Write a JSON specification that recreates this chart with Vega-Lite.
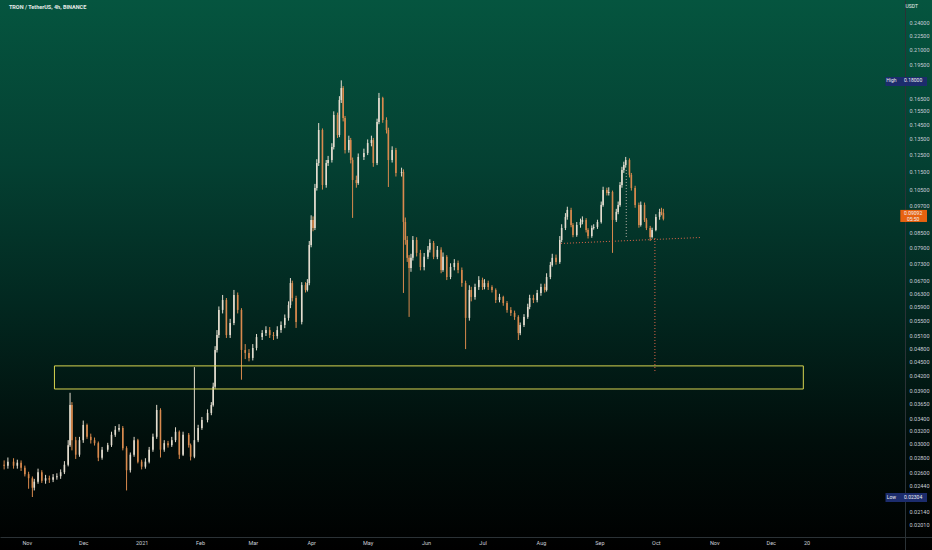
{
"$schema":"https://vega.github.io/schema/vega-lite/v6.json",
"width":932,"height":550,"autosize":"none","padding":0,
"background":"#000000",
"config":{"view":{"stroke":null,"fill":{"gradient":"linear","x1":0,"y1":0,"x2":0,"y2":1,"stops":[{"offset":0,"color":"#05553f"},{"offset":0.3,"color":"#044032"},{"offset":0.55,"color":"#022820"},{"offset":0.8,"color":"#010e0b"},{"offset":1,"color":"#000000"}]}},"text":{"font":"Roboto"}},
"resolve":{"scale":{"color":"independent"}},
"datasets":{
"candles":[
{"t":"2020-10-20","o":0.0270,"h":0.0276,"l":0.0264,"c":0.02689},
{"t":"2020-10-22","o":0.02689,"h":0.0280,"l":0.0265,"c":0.02743},
{"t":"2020-10-25","o":0.02743,"h":0.0279,"l":0.0265,"c":0.02689},
{"t":"2020-10-27","o":0.02689,"h":0.0277,"l":0.0265,"c":0.02729},
{"t":"2020-10-29","o":0.02729,"h":0.0276,"l":0.0262,"c":0.02663},
{"t":"2020-10-31","o":0.02663,"h":0.0269,"l":0.0255,"c":0.02579},
{"t":"2020-11-02","o":0.02579,"h":0.0261,"l":0.0240,"c":0.02528},
{"t":"2020-11-04","o":0.02528,"h":0.0255,"l":0.02304,"c":0.02413},
{"t":"2020-11-05","o":0.02413,"h":0.0252,"l":0.0238,"c":0.02485},
{"t":"2020-11-07","o":0.02485,"h":0.0265,"l":0.0246,"c":0.02604},
{"t":"2020-11-09","o":0.02604,"h":0.0263,"l":0.0247,"c":0.02498},
{"t":"2020-11-11","o":0.02498,"h":0.0257,"l":0.0246,"c":0.02528},
{"t":"2020-11-13","o":0.02528,"h":0.0256,"l":0.0247,"c":0.0251},
{"t":"2020-11-15","o":0.0251,"h":0.0258,"l":0.0248,"c":0.02541},
{"t":"2020-11-17","o":0.02541,"h":0.0259,"l":0.0251,"c":0.02553},
{"t":"2020-11-19","o":0.02553,"h":0.0264,"l":0.0252,"c":0.02604},
{"t":"2020-11-21","o":0.02604,"h":0.0275,"l":0.0258,"c":0.02702},
{"t":"2020-11-23","o":0.02702,"h":0.0305,"l":0.0268,"c":0.02976},
{"t":"2020-11-24","o":0.02976,"h":0.03853,"l":0.0295,"c":0.03629},
{"t":"2020-11-25","o":0.03629,"h":0.0368,"l":0.0290,"c":0.0305},
{"t":"2020-11-27","o":0.0305,"h":0.0310,"l":0.0278,"c":0.02839},
{"t":"2020-11-29","o":0.02839,"h":0.0310,"l":0.0281,"c":0.0305},
{"t":"2020-12-01","o":0.0305,"h":0.0336,"l":0.0301,"c":0.03288},
{"t":"2020-12-03","o":0.03288,"h":0.0331,"l":0.0307,"c":0.03101},
{"t":"2020-12-05","o":0.03101,"h":0.0315,"l":0.0300,"c":0.0305},
{"t":"2020-12-07","o":0.0305,"h":0.0309,"l":0.0297,"c":0.03005},
{"t":"2020-12-09","o":0.03005,"h":0.0303,"l":0.0275,"c":0.02797},
{"t":"2020-12-11","o":0.02797,"h":0.0295,"l":0.0277,"c":0.0291},
{"t":"2020-12-14","o":0.0291,"h":0.0301,"l":0.0288,"c":0.02976},
{"t":"2020-12-16","o":0.02976,"h":0.0318,"l":0.0295,"c":0.03132},
{"t":"2020-12-18","o":0.03132,"h":0.0327,"l":0.0310,"c":0.0321},
{"t":"2020-12-20","o":0.0321,"h":0.0330,"l":0.0318,"c":0.0324},
{"t":"2020-12-22","o":0.0324,"h":0.0327,"l":0.0290,"c":0.02932},
{"t":"2020-12-24","o":0.02932,"h":0.0296,"l":0.0238,"c":0.0263},
{"t":"2020-12-26","o":0.0263,"h":0.0287,"l":0.0260,"c":0.02839},
{"t":"2020-12-28","o":0.02839,"h":0.0310,"l":0.0281,"c":0.0305},
{"t":"2020-12-30","o":0.0305,"h":0.0307,"l":0.0272,"c":0.02743},
{"t":"2021-01-01","o":0.02743,"h":0.0277,"l":0.0264,"c":0.02676},
{"t":"2021-01-03","o":0.02676,"h":0.0279,"l":0.0265,"c":0.02743},
{"t":"2021-01-05","o":0.02743,"h":0.0295,"l":0.0272,"c":0.0291},
{"t":"2021-01-07","o":0.0291,"h":0.0315,"l":0.0288,"c":0.03101},
{"t":"2021-01-09","o":0.03101,"h":0.0363,"l":0.0307,"c":0.0354},
{"t":"2021-01-11","o":0.0354,"h":0.0357,"l":0.0280,"c":0.0291},
{"t":"2021-01-13","o":0.0291,"h":0.0305,"l":0.0288,"c":0.03005},
{"t":"2021-01-15","o":0.03005,"h":0.0304,"l":0.0294,"c":0.02976},
{"t":"2021-01-17","o":0.02976,"h":0.0310,"l":0.0295,"c":0.0305},
{"t":"2021-01-19","o":0.0305,"h":0.0325,"l":0.0302,"c":0.03179},
{"t":"2021-01-21","o":0.03179,"h":0.0320,"l":0.0278,"c":0.02839},
{"t":"2021-01-23","o":0.02839,"h":0.0318,"l":0.0282,"c":0.03132},
{"t":"2021-01-26","o":0.03132,"h":0.0316,"l":0.0294,"c":0.02976},
{"t":"2021-01-27","o":0.02976,"h":0.0300,"l":0.0276,"c":0.02811},
{"t":"2021-01-29","o":0.02811,"h":0.04374,"l":0.0279,"c":0.0305},
{"t":"2021-01-31","o":0.0305,"h":0.0329,"l":0.0302,"c":0.0324},
{"t":"2021-02-02","o":0.0324,"h":0.0342,"l":0.0321,"c":0.0337},
{"t":"2021-02-05","o":0.0337,"h":0.0355,"l":0.0333,"c":0.03488},
{"t":"2021-02-07","o":0.03488,"h":0.0368,"l":0.0345,"c":0.03629},
{"t":"2021-02-08","o":0.03629,"h":0.0405,"l":0.0360,"c":0.03971},
{"t":"2021-02-09","o":0.03971,"h":0.0485,"l":0.0393,"c":0.0476},
{"t":"2021-02-10","o":0.0476,"h":0.0525,"l":0.0470,"c":0.05122},
{"t":"2021-02-11","o":0.05122,"h":0.0590,"l":0.0505,"c":0.0580},
{"t":"2021-02-13","o":0.0580,"h":0.06244,"l":0.0570,"c":0.0609},
{"t":"2021-02-15","o":0.0609,"h":0.0615,"l":0.0505,"c":0.05122},
{"t":"2021-02-17","o":0.05122,"h":0.0555,"l":0.0505,"c":0.05439},
{"t":"2021-02-19","o":0.05439,"h":0.0640,"l":0.0538,"c":0.06244},
{"t":"2021-02-21","o":0.06244,"h":0.0632,"l":0.0570,"c":0.0580},
{"t":"2021-02-23","o":0.0580,"h":0.0585,"l":0.0411,"c":0.0476},
{"t":"2021-02-25","o":0.0476,"h":0.0490,"l":0.0455,"c":0.0469},
{"t":"2021-02-27","o":0.0469,"h":0.0478,"l":0.0450,"c":0.04576},
{"t":"2021-03-01","o":0.04576,"h":0.0490,"l":0.0452,"c":0.04807},
{"t":"2021-03-03","o":0.04807,"h":0.0515,"l":0.0475,"c":0.05072},
{"t":"2021-03-06","o":0.05072,"h":0.0525,"l":0.0500,"c":0.05173},
{"t":"2021-03-08","o":0.05173,"h":0.0535,"l":0.0510,"c":0.0525},
{"t":"2021-03-10","o":0.0525,"h":0.0533,"l":0.0505,"c":0.05122},
{"t":"2021-03-12","o":0.05122,"h":0.0520,"l":0.0500,"c":0.05097},
{"t":"2021-03-14","o":0.05097,"h":0.0535,"l":0.0503,"c":0.0525},
{"t":"2021-03-16","o":0.0525,"h":0.0548,"l":0.0518,"c":0.05385},
{"t":"2021-03-18","o":0.05385,"h":0.0567,"l":0.0530,"c":0.05576},
{"t":"2021-03-20","o":0.05576,"h":0.0605,"l":0.0550,"c":0.05941},
{"t":"2021-03-21","o":0.05941,"h":0.06787,"l":0.0585,"c":0.06621},
{"t":"2021-03-22","o":0.06621,"h":0.0670,"l":0.0605,"c":0.06152},
{"t":"2021-03-24","o":0.06152,"h":0.0622,"l":0.05306,"c":0.05466},
{"t":"2021-03-27","o":0.05466,"h":0.0665,"l":0.0540,"c":0.06556},
{"t":"2021-03-29","o":0.06556,"h":0.0665,"l":0.0632,"c":0.0640},
{"t":"2021-03-30","o":0.0640,"h":0.0675,"l":0.0635,"c":0.06621},
{"t":"2021-03-31","o":0.06621,"h":0.0815,"l":0.0655,"c":0.0799},
{"t":"2021-04-01","o":0.0799,"h":0.0925,"l":0.0790,"c":0.0904},
{"t":"2021-04-02","o":0.0904,"h":0.0920,"l":0.0855,"c":0.0869},
{"t":"2021-04-03","o":0.0869,"h":0.1080,"l":0.0860,"c":0.10584},
{"t":"2021-04-04","o":0.10584,"h":0.1220,"l":0.1045,"c":0.11971},
{"t":"2021-04-05","o":0.11971,"h":0.14583,"l":0.1180,"c":0.1409},
{"t":"2021-04-07","o":0.1409,"h":0.1420,"l":0.1050,"c":0.10741},
{"t":"2021-04-09","o":0.10741,"h":0.1215,"l":0.1060,"c":0.11971},
{"t":"2021-04-10","o":0.11971,"h":0.1240,"l":0.1180,"c":0.1215},
{"t":"2021-04-12","o":0.1215,"h":0.1320,"l":0.1200,"c":0.12955},
{"t":"2021-04-13","o":0.12955,"h":0.1545,"l":0.1280,"c":0.15171},
{"t":"2021-04-15","o":0.15171,"h":0.1535,"l":0.1355,"c":0.13746},
{"t":"2021-04-16","o":0.13746,"h":0.1665,"l":0.1360,"c":0.1634},
{"t":"2021-04-17","o":0.1634,"h":0.1800,"l":0.1610,"c":0.1733},
{"t":"2021-04-18","o":0.1733,"h":0.1750,"l":0.1470,"c":0.14948},
{"t":"2021-04-19","o":0.14948,"h":0.1510,"l":0.1255,"c":0.1277},
{"t":"2021-04-21","o":0.1277,"h":0.1370,"l":0.1260,"c":0.1341},
{"t":"2021-04-22","o":0.1341,"h":0.1355,"l":0.1195,"c":0.1215},
{"t":"2021-04-23","o":0.1215,"h":0.1230,"l":0.09132,"c":0.1101},
{"t":"2021-04-25","o":0.1101,"h":0.1125,"l":0.1060,"c":0.10848},
{"t":"2021-04-26","o":0.10848,"h":0.1255,"l":0.1075,"c":0.12337},
{"t":"2021-04-29","o":0.12337,"h":0.1285,"l":0.1215,"c":0.12583},
{"t":"2021-05-01","o":0.12583,"h":0.1345,"l":0.1245,"c":0.13213},
{"t":"2021-05-03","o":0.13213,"h":0.1370,"l":0.1300,"c":0.1341},
{"t":"2021-05-04","o":0.1341,"h":0.1355,"l":0.1175,"c":0.11971},
{"t":"2021-05-06","o":0.11971,"h":0.1490,"l":0.1185,"c":0.14655},
{"t":"2021-05-07","o":0.14655,"h":0.16918,"l":0.1450,"c":0.16506},
{"t":"2021-05-09","o":0.16506,"h":0.1660,"l":0.1460,"c":0.1480},
{"t":"2021-05-11","o":0.1480,"h":0.1500,"l":0.1385,"c":0.1409},
{"t":"2021-05-12","o":0.1409,"h":0.1425,"l":0.10637,"c":0.1215},
{"t":"2021-05-14","o":0.1215,"h":0.1300,"l":0.1200,"c":0.1277},
{"t":"2021-05-16","o":0.1277,"h":0.1290,"l":0.1120,"c":0.1140},
{"t":"2021-05-19","o":0.1140,"h":0.1170,"l":0.1120,"c":0.11457},
{"t":"2021-05-20","o":0.11457,"h":0.1160,"l":0.06306,"c":0.08951},
{"t":"2021-05-21","o":0.08951,"h":0.0915,"l":0.0800,"c":0.0819},
{"t":"2021-05-22","o":0.0819,"h":0.0835,"l":0.0735,"c":0.07498},
{"t":"2021-05-23","o":0.07498,"h":0.0760,"l":0.05603,"c":0.07133},
{"t":"2021-05-24","o":0.07133,"h":0.0765,"l":0.0700,"c":0.07498},
{"t":"2021-05-25","o":0.07498,"h":0.0835,"l":0.0740,"c":0.0819},
{"t":"2021-05-27","o":0.0819,"h":0.0830,"l":0.0755,"c":0.07685},
{"t":"2021-05-29","o":0.07685,"h":0.0780,"l":0.0705,"c":0.07168},
{"t":"2021-05-31","o":0.07168,"h":0.0768,"l":0.0705,"c":0.07536},
{"t":"2021-06-02","o":0.07536,"h":0.0795,"l":0.0745,"c":0.0780},
{"t":"2021-06-03","o":0.0780,"h":0.0822,"l":0.0770,"c":0.0807},
{"t":"2021-06-05","o":0.0807,"h":0.0815,"l":0.0745,"c":0.07536},
{"t":"2021-06-07","o":0.07536,"h":0.0795,"l":0.0745,"c":0.0780},
{"t":"2021-06-09","o":0.0780,"h":0.0790,"l":0.0695,"c":0.0706},
{"t":"2021-06-10","o":0.0706,"h":0.0770,"l":0.0700,"c":0.07536},
{"t":"2021-06-12","o":0.07536,"h":0.0760,"l":0.0672,"c":0.06821},
{"t":"2021-06-14","o":0.06821,"h":0.0730,"l":0.0675,"c":0.07168},
{"t":"2021-06-16","o":0.07168,"h":0.0745,"l":0.0705,"c":0.07311},
{"t":"2021-06-18","o":0.07311,"h":0.0740,"l":0.0695,"c":0.0706},
{"t":"2021-06-20","o":0.0706,"h":0.0715,"l":0.0650,"c":0.06621},
{"t":"2021-06-22","o":0.06621,"h":0.0670,"l":0.0478,"c":0.05576},
{"t":"2021-06-24","o":0.05576,"h":0.0655,"l":0.0550,"c":0.0640},
{"t":"2021-06-25","o":0.0640,"h":0.0650,"l":0.0605,"c":0.06183},
{"t":"2021-06-27","o":0.06183,"h":0.0660,"l":0.0610,"c":0.06492},
{"t":"2021-06-29","o":0.06492,"h":0.0685,"l":0.0640,"c":0.0672},
{"t":"2021-07-01","o":0.0672,"h":0.0680,"l":0.0640,"c":0.06492},
{"t":"2021-07-02","o":0.06492,"h":0.0675,"l":0.0642,"c":0.06621},
{"t":"2021-07-04","o":0.06621,"h":0.0670,"l":0.0640,"c":0.06492},
{"t":"2021-07-06","o":0.06492,"h":0.0655,"l":0.0632,"c":0.0640},
{"t":"2021-07-08","o":0.0640,"h":0.0645,"l":0.0600,"c":0.0609},
{"t":"2021-07-10","o":0.0609,"h":0.0628,"l":0.0602,"c":0.06183},
{"t":"2021-07-12","o":0.06183,"h":0.0622,"l":0.0592,"c":0.0600},
{"t":"2021-07-14","o":0.0600,"h":0.0606,"l":0.0572,"c":0.0580},
{"t":"2021-07-16","o":0.0580,"h":0.0588,"l":0.0563,"c":0.05715},
{"t":"2021-07-18","o":0.05715,"h":0.0578,"l":0.0552,"c":0.05603},
{"t":"2021-07-20","o":0.05603,"h":0.0565,"l":0.0500,"c":0.05173},
{"t":"2021-07-21","o":0.05173,"h":0.0545,"l":0.0512,"c":0.05385},
{"t":"2021-07-23","o":0.05385,"h":0.0568,"l":0.0533,"c":0.05603},
{"t":"2021-07-25","o":0.05603,"h":0.0598,"l":0.0555,"c":0.05884},
{"t":"2021-07-26","o":0.05884,"h":0.0625,"l":0.0582,"c":0.06152},
{"t":"2021-07-28","o":0.06152,"h":0.0625,"l":0.0600,"c":0.0609},
{"t":"2021-07-30","o":0.0609,"h":0.0640,"l":0.0602,"c":0.06306},
{"t":"2021-08-01","o":0.06306,"h":0.0660,"l":0.0622,"c":0.06492},
{"t":"2021-08-03","o":0.06492,"h":0.0660,"l":0.0632,"c":0.0640},
{"t":"2021-08-04","o":0.0640,"h":0.0695,"l":0.0635,"c":0.06821},
{"t":"2021-08-06","o":0.06821,"h":0.0735,"l":0.0675,"c":0.07239},
{"t":"2021-08-07","o":0.07239,"h":0.0765,"l":0.0718,"c":0.07498},
{"t":"2021-08-09","o":0.07498,"h":0.0762,"l":0.0725,"c":0.07347},
{"t":"2021-08-11","o":0.07347,"h":0.0835,"l":0.0728,"c":0.0819},
{"t":"2021-08-12","o":0.0819,"h":0.0885,"l":0.0810,"c":0.0869},
{"t":"2021-08-14","o":0.0869,"h":0.0935,"l":0.0860,"c":0.09178},
{"t":"2021-08-15","o":0.09178,"h":0.0965,"l":0.0905,"c":0.0950},
{"t":"2021-08-17","o":0.0950,"h":0.0960,"l":0.0872,"c":0.0882},
{"t":"2021-08-18","o":0.0882,"h":0.0890,"l":0.0830,"c":0.0839},
{"t":"2021-08-20","o":0.0839,"h":0.0895,"l":0.0832,"c":0.0882},
{"t":"2021-08-22","o":0.0882,"h":0.0910,"l":0.0870,"c":0.08951},
{"t":"2021-08-23","o":0.08951,"h":0.0920,"l":0.0885,"c":0.0904},
{"t":"2021-08-25","o":0.0904,"h":0.0912,"l":0.0850,"c":0.0860},
{"t":"2021-08-26","o":0.0860,"h":0.0868,"l":0.0825,"c":0.0835},
{"t":"2021-08-28","o":0.0835,"h":0.0880,"l":0.0828,"c":0.0869},
{"t":"2021-08-29","o":0.0869,"h":0.0885,"l":0.0862,"c":0.08733},
{"t":"2021-08-31","o":0.08733,"h":0.0905,"l":0.0865,"c":0.08951},
{"t":"2021-09-02","o":0.08951,"h":0.0990,"l":0.0888,"c":0.09737},
{"t":"2021-09-03","o":0.09737,"h":0.1065,"l":0.0965,"c":0.1048},
{"t":"2021-09-05","o":0.1048,"h":0.1060,"l":0.1020,"c":0.10326},
{"t":"2021-09-06","o":0.10326,"h":0.1062,"l":0.1020,"c":0.10377},
{"t":"2021-09-08","o":0.10377,"h":0.1045,"l":0.07685,"c":0.0904},
{"t":"2021-09-10","o":0.0904,"h":0.0955,"l":0.0895,"c":0.09407},
{"t":"2021-09-11","o":0.09407,"h":0.0990,"l":0.0930,"c":0.09737},
{"t":"2021-09-12","o":0.09737,"h":0.1090,"l":0.0965,"c":0.10741},
{"t":"2021-09-13","o":0.10741,"h":0.1175,"l":0.1060,"c":0.1157},
{"t":"2021-09-14","o":0.1157,"h":0.1205,"l":0.1140,"c":0.11854},
{"t":"2021-09-15","o":0.11854,"h":0.12337,"l":0.1170,"c":0.1215},
{"t":"2021-09-17","o":0.1215,"h":0.1225,"l":0.1115,"c":0.11288},
{"t":"2021-09-18","o":0.11288,"h":0.1140,"l":0.1045,"c":0.10584},
{"t":"2021-09-20","o":0.10584,"h":0.1070,"l":0.0960,"c":0.09737},
{"t":"2021-09-22","o":0.09737,"h":0.0985,"l":0.0870,"c":0.0882},
{"t":"2021-09-23","o":0.0882,"h":0.0990,"l":0.0875,"c":0.09737},
{"t":"2021-09-25","o":0.09737,"h":0.0985,"l":0.0895,"c":0.0904},
{"t":"2021-09-26","o":0.0904,"h":0.0912,"l":0.0860,"c":0.0869},
{"t":"2021-09-28","o":0.0869,"h":0.0878,"l":0.0815,"c":0.08309},
{"t":"2021-09-29","o":0.08309,"h":0.0870,"l":0.0825,"c":0.0860},
{"t":"2021-10-01","o":0.0860,"h":0.0930,"l":0.0855,"c":0.09178},
{"t":"2021-10-03","o":0.09178,"h":0.0955,"l":0.0905,"c":0.09407},
{"t":"2021-10-04","o":0.09407,"h":0.0960,"l":0.0925,"c":0.0936},
{"t":"2021-10-05","o":0.0936,"h":0.0955,"l":0.0902,"c":0.09092}
],
"zone":[{"t1":"2020-11-15T17:00:00Z","t2":"2021-12-18T07:00:00Z","p1":0.0440,"p2":0.03926}],
"marks":[
{"kind":"target","t1":"2021-08-11T15:00:00Z","t2":"2021-10-24T17:00:00Z","p1":0.0805,"p2":0.0829},
{"kind":"target","t1":"2021-09-30T12:00:00Z","t2":"2021-09-30T12:00:00Z","p1":0.0827,"p2":0.04247},
{"kind":"measure","t1":"2021-09-15T07:00:00Z","t2":"2021-09-15T07:00:00Z","p1":0.1157,"p2":0.0827}
],
"tags":[
{"kind":"high","t1":"2022-01-30T22:00:00Z","t2":"2022-02-21T23:00:00Z","p1":0.1830,"p2":0.1751},
{"kind":"low","t1":"2022-01-30T22:00:00Z","t2":"2022-02-21T23:00:00Z","p1":0.02350,"p2":0.02248},
{"kind":"last","t1":"2022-02-07T19:00:00Z","t2":"2022-02-21T23:00:00Z","p1":0.0950,"p2":0.08951}
],
"texts":[
{"t":"2022-02-03T02:00:00Z","p":0.1800,"label":"High"},
{"t":"2022-02-14T14:00:00Z","p":0.1800,"label":"0.18000"},
{"t":"2022-02-03T02:00:00Z","p":0.02304,"label":"Low"},
{"t":"2022-02-14T14:00:00Z","p":0.02304,"label":"0.02304"},
{"t":"2022-02-14T14:00:00Z","p":0.09342,"label":"0.09092"},
{"t":"2022-02-14T14:00:00Z","p":0.09069,"label":"05:50"},
{"t":"2022-02-13T20:00:00Z","p":0.2598,"label":"USDT"}
],
"title":[{"t":"2020-10-22T13:00:00Z","p":0.2585,"label":"TRON / TetherUS, 4h, BINANCE"}]
},
"encoding":{
"x":{"field":"t","type":"temporal","scale":{"type":"utc","domain":[{"year":2020,"month":10,"date":20,"hours":11,"utc":true},{"year":2022,"month":2,"date":21,"hours":23,"utc":true}],"nice":false},
 "axis":{"orient":"bottom","offset":-13,"title":null,"grid":false,"ticks":false,"domainColor":"#2b3236","labelColor":"#c9cdd6","labelFont":"Roboto","labelFontSize":5.5,"labelPadding":3,"labelOverlap":false,"labelFlush":false,
 "values":[{"year":2020,"month":11,"date":1,"utc":true},{"year":2020,"month":12,"date":1,"utc":true},{"year":2021,"month":1,"date":1,"utc":true},{"year":2021,"month":2,"date":1,"utc":true},{"year":2021,"month":3,"date":1,"utc":true},{"year":2021,"month":4,"date":1,"utc":true},{"year":2021,"month":5,"date":1,"utc":true},{"year":2021,"month":6,"date":1,"utc":true},{"year":2021,"month":7,"date":1,"utc":true},{"year":2021,"month":8,"date":1,"utc":true},{"year":2021,"month":9,"date":1,"utc":true},{"year":2021,"month":10,"date":1,"utc":true},{"year":2021,"month":11,"date":1,"utc":true},{"year":2021,"month":12,"date":1,"utc":true},{"year":2021,"month":12,"date":20,"utc":true}],
 "labelExpr":"utcdate(datum.value) == 20 ? '20' : (utcmonth(datum.value) == 0 ? utcFormat(datum.value, '%Y') : utcFormat(datum.value, '%b'))"}}
},
"layer":[
{"data":{"name":"candles"},"mark":{"type":"rule","strokeWidth":1},
 "encoding":{"y":{"field":"l","type":"quantitative","scale":{"type":"log","domain":[0.01774,0.2676],"nice":false,"zero":false},
   "axis":{"orient":"right","offset":-27,"title":null,"grid":false,"ticks":false,"domainColor":"#2b3236","labelColor":"#c9cdd6","labelFont":"Roboto","labelFontSize":5.5,"labelPadding":4,"labelAlign":"left","labelOverlap":false,"labelFlush":false,"format":".5f",
   "values":[0.24,0.225,0.21,0.195,0.165,0.155,0.145,0.135,0.125,0.115,0.105,0.097,0.085,0.079,0.073,0.067,0.063,0.059,0.055,0.051,0.048,0.045,0.042,0.039,0.0365,0.034,0.032,0.030,0.028,0.026,0.0244,0.0214,0.0201]}},
  "y2":{"field":"h"},
  "color":{"condition":{"test":"datum.c >= datum.o","value":"#e4ddcf"},"value":"#d98a4e"}}},
{"data":{"name":"candles"},"mark":{"type":"bar","width":1.6},
 "encoding":{"y":{"field":"o","type":"quantitative"},"y2":{"field":"c"},
  "color":{"condition":{"test":"datum.c >= datum.o","value":"#e4ddcf"},"value":"#d98a4e"}}},
{"data":{"values":[{}]},"mark":{"type":"rule","strokeDash":[1,1.5],"strokeWidth":1,"color":"#e07b39","opacity":0.55},
 "encoding":{"y":{"datum":0.09092,"type":"quantitative"}}},
{"data":{"name":"zone"},"mark":{"type":"rect","filled":false,"stroke":"#d8d450","strokeWidth":1},
 "encoding":{"x":{"field":"t1","type":"temporal"},"x2":{"field":"t2"},"y":{"field":"p1","type":"quantitative"},"y2":{"field":"p2"}}},
{"data":{"name":"marks"},"mark":{"type":"rule","strokeDash":[1,2],"strokeWidth":1},
 "encoding":{"x":{"field":"t1","type":"temporal"},"x2":{"field":"t2"},"y":{"field":"p1","type":"quantitative"},"y2":{"field":"p2"},
  "color":{"field":"kind","type":"nominal","scale":{"domain":["target","measure"],"range":["#e0674a","#b8b0a6"]},"legend":null}}},
{"data":{"name":"tags"},"mark":{"type":"rect"},
 "encoding":{"x":{"field":"t1","type":"temporal"},"x2":{"field":"t2"},"y":{"field":"p1","type":"quantitative"},"y2":{"field":"p2"},
  "color":{"field":"kind","type":"nominal","scale":{"domain":["high","low","last"],"range":["#1c2c6c","#1c2c6c","#e8620f"]},"legend":null}}},
{"data":{"name":"texts"},"mark":{"type":"text","font":"Roboto","fontSize":5,"color":"#f0f0f0","align":"center","baseline":"middle"},
 "encoding":{"x":{"field":"t","type":"temporal"},"y":{"field":"p","type":"quantitative"},"text":{"field":"label"}}},
{"data":{"name":"title"},"mark":{"type":"text","font":"Roboto","fontSize":5.5,"fontWeight":"bold","color":"#e6ece9","align":"left","baseline":"middle"},
 "encoding":{"x":{"field":"t","type":"temporal"},"y":{"field":"p","type":"quantitative"},"text":{"field":"label"}}}
]
}
